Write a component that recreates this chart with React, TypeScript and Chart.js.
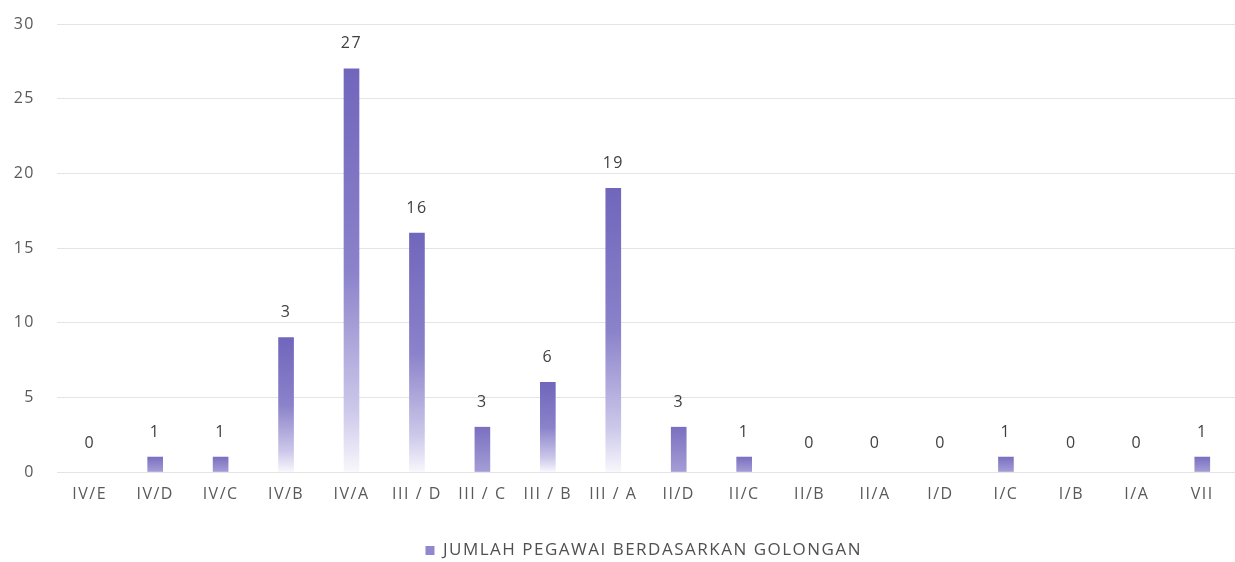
import React, { useEffect, useRef } from "react";
import { Chart, registerables } from "chart.js";

Chart.register(...registerables);

const categories = ["IV/E", "IV/D", "IV/C", "IV/B", "IV/A", "III / D", "III / C", "III / B", "III / A", "II/D", "II/C", "II/B", "II/A", "I/D", "I/C", "I/B", "I/A", "VII"];
const barValues = [0, 1, 1, 9, 27, 16, 3, 6, 19, 3, 1, 0, 0, 0, 1, 0, 0, 1];
const valueLabels = ["0", "1", "1", "3", "27", "16", "3", "6", "19", "3", "1", "0", "0", "0", "1", "0", "0", "1"];
const seriesName = "JUMLAH PEGAWAI BERDASARKAN GOLONGAN";
const yTicks = [0, 5, 10, 15, 20, 25, 30];

const FONT = "'Open Sans', Lato, sans-serif";

const spacingPlugin = {
  id: "letterSpacing",
  beforeDraw(chart: any) {
    (chart.ctx as any).letterSpacing = "1.5px";
  },
};

const valueLabelPlugin = {
  id: "valueLabels",
  afterDatasetsDraw(chart: any) {
    const ctx = chart.ctx;
    const meta = chart.getDatasetMeta(0);
    ctx.save();
    ctx.font = `16px ${FONT}`;
    ctx.fillStyle = "#404040";
    ctx.textAlign = "center";
    ctx.textBaseline = "middle";
    meta.data.forEach((bar: any, i: number) => {
      const off = barValues[i] === 0 ? 29 : 25;
      ctx.fillText(valueLabels[i], bar.x, bar.y - off);
    });
    ctx.restore();
  },
};

function barGradient(context: any) {
  const chart = context.chart;
  const v = barValues[context.dataIndex] ?? 0;
  if (v === 0) return "rgba(0,0,0,0)";
  const ys = chart.scales && chart.scales.y;
  if (!ys || !chart.chartArea) return "#7d73c2";
  const top = ys.getPixelForValue(v);
  const bottom = ys.getPixelForValue(0);
  if (bottom - top < 2) return "#7d73c2";
  const g = chart.ctx.createLinearGradient(0, top, 0, bottom);
  const h = bottom - top;
  if (h < 60) {
    g.addColorStop(0, "#7a70c0");
    g.addColorStop(1, "#a49ed6");
  } else {
    g.addColorStop(0, "#7066bc");
    g.addColorStop(0.5, "#8a82ca");
    g.addColorStop(0.85, "#cdc9ea");
    g.addColorStop(1, "#f8f7fc");
  }
  return g;
}

export default function App() {
  const ref = useRef<HTMLCanvasElement | null>(null);
  useEffect(() => {
    if (!ref.current) return;
    const chart = new Chart(ref.current, {
      type: "bar",
      data: {
        labels: categories,
        datasets: [
          {
            label: seriesName,
            data: barValues,
            backgroundColor: barGradient,
            barThickness: 15,
          },
        ],
      },
      options: {
        responsive: false,
        animation: false,
        maintainAspectRatio: false,
        layout: { padding: { left: 0, right: 0, top: 10, bottom: -7 } },
        plugins: {
          legend: {
            position: "bottom",
            labels: {
              boxWidth: 9,
              boxHeight: 9,
              color: "#505050",
              font: { family: FONT, size: 17 },
              padding: 0,
              generateLabels: () => [
                {
                  text: seriesName,
                  fillStyle: "#8f88cc",
                  strokeStyle: "#8f88cc",
                  lineWidth: 0,
                  fontColor: "#505050",
                  datasetIndex: 0,
                } as any,
              ],
            },
          },
          tooltip: { enabled: false },
        },
        scales: {
          x: {
            grid: { display: false },
            border: { display: false },
            afterFit: (scale: any) => {
              scale.height = 70;
            },
            ticks: {
              color: "#595959",
              font: { family: FONT, size: 16 },
              padding: 5,
              maxRotation: 0,
              autoSkip: false,
            },
          },
          y: {
            min: 0,
            max: 30,
            afterBuildTicks: (scale: any) => {
              scale.ticks = yTicks.map((v) => ({ value: v }));
            },
            grid: { color: "#e4e4e4", drawTicks: false },
            border: { display: false },
            afterFit: (scale: any) => {
              scale.width = 57;
            },
            ticks: {
              color: "#595959",
              font: { family: FONT, size: 16, lineHeight: 0.25 },
              padding: 22,
            },
          },
        },
      },
      plugins: [spacingPlugin, valueLabelPlugin],
    });
    return () => chart.destroy();
  }, []);
  return (
    <div style={{ position: "absolute", left: 0, top: 0, width: 1235, height: 562, background: "#fff" }}>
      <canvas ref={ref} width={1235} height={562} style={{ display: "block" }} />
    </div>
  );
}
